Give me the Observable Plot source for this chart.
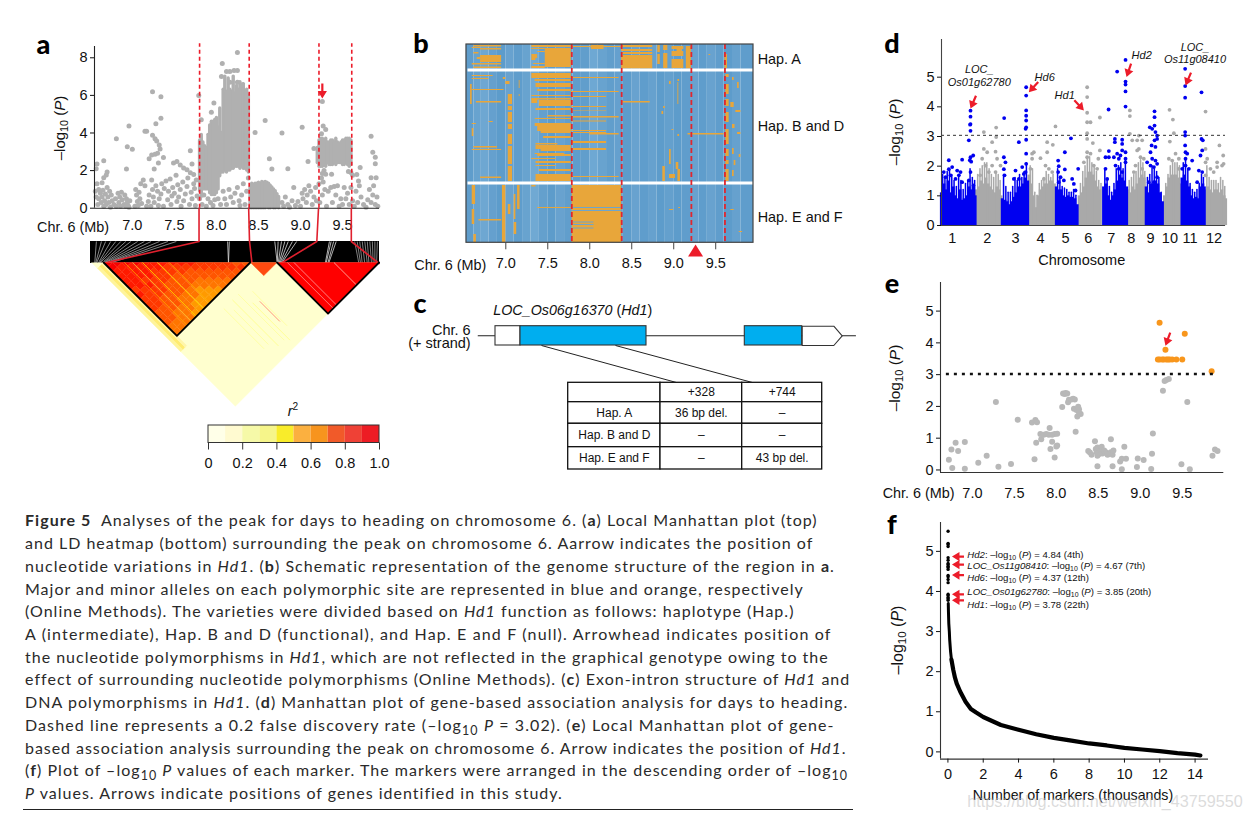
<!DOCTYPE html>
<html><head><meta charset="utf-8">
<script src="https://cdn.jsdelivr.net/npm/d3@7"></script>
<script src="https://cdn.jsdelivr.net/npm/@observablehq/plot@0.6"></script>
<style>
html,body{margin:0;padding:0;background:#fff}
#root{position:relative;width:1250px;height:819px;overflow:hidden;font-family:"Liberation Sans",Arial,sans-serif;color:#111}
.lb{position:absolute;white-space:nowrap;line-height:1}
.lb sub{font-size:.72em;vertical-align:baseline;position:relative;top:.28em;line-height:0}
.cap{position:absolute;left:25px;white-space:nowrap;font-family:Lato,"Open Sans",sans-serif;font-size:16px;color:#2a2a2a;line-height:1}
.cap sub{font-size:.78em;vertical-align:baseline;position:relative;top:.3em;line-height:0}
</style></head><body><div id="root"></div>
<script>
// ---------- Panel a: local Manhattan ----------
const aBoundaries=[7.8,8.39,9.22,9.61];
const aTicks=[7,7.5,8,8.5,9,9.5];
const aPeakCols=[[7.8,.9,3.6],[7.82,.6,3.9],[7.84,1,3.5],[7.86,1,3.3],[7.88,1,3.2],[7.9,1,3.9],[7.92,.8,4.4],[7.94,.7,4.6],[7.96,.7,4.6],[7.98,.7,4.7],[8,.8,4.8],[8.02,1,4.3],[8.04,1.7,5.3],[8.06,1.9,4],[8.08,1.9,6.3],[8.1,2,7],[8.12,1.9,6.2],[8.14,2,6.9],[8.16,2,6.3],[8.18,2.1,6.2],[8.2,2.1,7],[8.22,2.2,6.1],[8.24,2.2,6.5],[8.26,2.2,6.3],[8.28,2.1,6.7],[8.3,2.2,6.4],[8.32,2.1,6.6],[8.34,2.1,6.2],[8.36,2,6.3],[8.38,1.9,6]];
const aHumpCols=[[8.4,0,1.1],[8.42,0,1.3],[8.44,0,1.25],[8.46,0,1.3],[8.48,0,1.3],[8.5,0,1.35],[8.52,0,1.3],[8.54,0,1.4],[8.56,0,1.35],[8.58,0,1.4],[8.6,.1,1.35],[8.62,0,1.3],[8.64,0,1.2],[8.66,.1,1.1],[8.68,0,1],[8.7,0,.9],[8.72,.1,.75],[8.74,0,.6]];
const aBandCols=[[9.2,2.4,3.2],[9.22,2.2,3.6],[9.24,2.2,3.7],[9.26,2.2,3.7],[9.28,2.3,3.6],[9.3,2.2,3.7],[9.32,2.4,3.5],[9.34,2.3,3.5],[9.36,2.3,3.6],[9.38,2.3,3.6],[9.4,2.4,3.5],[9.42,2.3,3.7],[9.44,2.4,3.5],[9.46,2.4,3.4],[9.48,2.4,3.5],[9.5,2.3,3.6],[9.52,2.3,3.6],[9.54,2.4,3.7],[9.56,2.3,3.7],[9.58,2.2,3.7],[9.6,2.3,3.6]];
const aHighPoints=[[6.58,2.35],[6.57,2.1],[6.66,2.52],[6.7,1.93],[6.69,1.76],[6.66,1.62],[6.64,1.36],[6.81,3.7],[6.94,3.27],[7,3.13],[6.96,4.37],[6.93,2.09],[7.15,4.09],[7.17,4.09],[7.24,6.19],[7.34,5.93],[7.28,4.49],[7.34,4.78],[7.24,3.88],[7.27,3.7],[7.29,3.57],[7.32,3.36],[7.33,3.15],[7.2,2.63],[7.23,2.83],[7.27,2.87],[7.3,2.92],[7.37,2.7],[7.31,2.4],[7.26,2.09],[7.69,3.06],[7.79,6],[7.82,4.71],[8.07,7.7],[8.25,8.28],[8.12,7.27],[8.16,7.27],[8.21,7.32],[8.25,7.33],[8.31,6.57],[8.25,6.7],[8.16,6.7],[8.06,7],[7.97,5.6],[7.94,5.1],[8.46,4.02],[8.58,4.66],[8.78,4],[9.02,4.31],[8.63,2.63],[8.66,2.09],[8.85,2.1],[9.09,2.49],[9.16,3.18],[9.26,5.67],[9.27,4.37],[9.3,4.19],[9.25,3.96],[9.84,3.83],[9.86,2.97],[9.89,2.71],[9.89,2.37],[9.71,2.17],[9.67,1.79],[9.84,1.62],[9.9,1.62],[9.69,1.44],[7.49,2.4],[7.53,2.49],[7.57,2.3],[7.61,2.14],[7.65,2.05],[7.69,1.88],[7.73,1.79],[7.71,2.35],[9.57,1.95],[9.6,1.9],[9.62,1.75],[9.28,2],[9.26,1.85],[9.3,1.8],[9.37,1.8]];
const aLowPoints=[[6.56,.9],[6.57,.6],[6.58,1.3],[6.59,.2],[6.6,.5],[6.6,1],[6.62,.8],[6.63,.3],[6.64,.6],[6.65,.95],[6.66,.1],[6.67,.4],[6.68,.75],[6.69,.2],[6.7,1.1],[6.71,.6],[6.72,.3],[6.73,.9],[6.74,.05],[6.75,.7],[6.76,.4],[6.78,.2],[6.8,.5],[6.81,.1],[6.83,.8],[6.84,.3],[6.85,.6],[6.86,.1],[6.87,.85],[6.88,.45],[6.9,.2],[6.91,.7],[6.92,.1],[6.93,.5],[6.94,.3],[6.95,.15],[6.96,.05],[6.97,.4],[7.03,.1],[7.04,1],[7.05,.7],[7.06,.35],[7.07,.15],[7.08,.85],[7.09,.5],[7.1,1.3],[7.11,.25],[7.13,1.5],[7.15,1.2],[7.17,.1],[7.19,.35],[7.2,.7],[7.22,.1],[7.23,1.5],[7.24,1],[7.25,.6],[7.26,.3],[7.28,1.2],[7.3,.9],[7.31,.15],[7.32,.5],[7.34,.75],[7.35,1.3],[7.37,.1],[7.38,1.05],[7.4,1.45],[7.42,.45],[7.43,.9],[7.45,1.55],[7.46,.2],[7.47,.65],[7.48,1.1],[7.5,.8],[7.52,1.75],[7.53,.35],[7.54,1.25],[7.55,.6],[7.57,1],[7.58,.1],[7.6,1.4],[7.61,.4],[7.63,.75],[7.65,1.15],[7.66,1.6],[7.68,.2],[7.7,.85],[7.71,.5],[7.73,1.3],[7.74,1.05],[7.75,.15],[7.76,1.5],[7.77,.65],[7.8,.5],[7.83,.2],[7.85,.7],[7.88,.1],[7.9,.5],[7.93,.3],[7.96,.15],[7.98,.45],[8.02,.5],[8.05,.2],[8.08,.9],[8.1,.5],[8.12,.2],[8.15,1],[8.17,.6],[8.2,.3],[8.22,.8],[8.25,1.1],[8.27,.4],[8.28,.15],[8.3,.7],[8.32,1.3],[8.34,.2],[8.36,.9],[8.38,1.6],[8.78,.3],[8.8,.1],[8.82,.6],[8.85,.2],[8.87,.05],[8.9,.4],[8.92,1.1],[8.94,.15],[8.97,.35],[9,.1],[9.02,.8],[9.03,.5],[9.05,1],[9.07,.3],[9.08,.7],[9.1,1.2],[9.12,.9],[9.14,.2],[9.16,.6],[9.18,1.1],[9.19,.4],[9.22,1.3],[9.25,1.6],[9.27,1.4],[9.23,.3],[9.26,.7],[9.29,1],[9.31,.1],[9.33,.9],[9.36,1.1],[9.38,.3],[9.4,1.15],[9.42,.7],[9.44,1.2],[9.46,.1],[9.48,.5],[9.5,.2],[9.52,1.1],[9.54,.5],[9.56,.8],[9.58,.2],[9.6,1.1],[9.62,.4],[9.64,.1],[9.66,.9],[9.68,.3],[9.7,1.2],[9.72,.6],[9.75,.2],[9.78,.05],[9.8,.45],[9.82,1],[9.84,.3],[9.86,.7],[9.87,1.2],[9.89,.2],[9.91,.6],[9.92,.1]];
const aArrow=[{x:9.26,y:5.83,rotate:180}];
// LD connector band: [genome position, SNP-order position]
const bandFansLeft=[[6.58,6.56],[6.64,6.57],[6.69,6.58],[6.75,6.6],[6.81,6.61],[6.87,6.62],[6.93,6.64],[6.99,6.65],[7.07,6.66],[7.15,6.67],[7.23,6.69],[7.33,6.7],[7.43,6.71],[7.53,6.73]];
const bandFansMid=[[8.7,8.73],[8.74,8.73],[8.78,8.74],[8.82,8.75],[8.86,8.76],[8.91,8.77],[8.96,8.78],[8.14,8.15],[8.16,8.15],[9.35,9.3],[9.37,9.31],[9.4,9.33],[9.43,9.34]];
const bandFansRight=[[9.65,9.7],[9.68,9.72],[9.71,9.74],[9.74,9.77],[9.77,9.8],[9.8,9.82],[9.83,9.85],[9.86,9.87],[9.89,9.89],[9.92,9.91]];
const bandConnectors=[[7.8,7.8,6.65],[8.39,8.4,8.43],[9.22,9.2,8.77],[9.61,9.61,9.94]];
// LD heat map, pair-of-sites coordinates (0-1 in SNP order)
const ldBlock1Sites=[.042,.552];
const ldBlock1=["0011112122233344","011111222233344","01112122333444","0111222333444","112223334445","11223334455","1223334455","122334555","12334455","1233445","223344","22334","2233","223","32","3"];
const ldLevels=["#f80000","#ff1a00","#ff3800","#ff5500","#ff7500","#ff9a00"];
const ldStrips=[[0,.015,.042,.62,"#fff49a"],[.015,.03,.042,.62,"#ffec70"],[.03,.042,.042,.62,"#fff6a8"],[.552,.645,.552,.645,"#ff4a10"],[.645,1,.645,1,"#ff0000"]];
const ldStreaks=[[.114,.114,.552,"#ffa000"],[.143,.143,.552,"#ffc030"],[.177,.177,.552,"#ffd000"],[.229,.229,.552,"#ffe000"],[.27,.27,.552,"#ffb000"],[.05,.3,.3,"#ffa000"],[.05,.35,.35,"#ffc000"],[.05,.39,.39,"#ffe000"],[.05,.47,.47,"#ffd040"],[.681,.681,1,"#ff8080"],[.704,.704,1,"#ff9090"],[.843,.843,1,"#ffb0a0"],[.645,.843,.843,"#ffb0a0"],[.645,.913,.913,"#ffa090"],[.3,.62,.9,"#ffffa0"],[.33,.66,.9,"#ffffa0"],[.36,.62,.94,"#ffff90"],[.4,.62,.94,"#ffffa0"],[.42,.7,.96,"#ffff90"],[.46,.66,.9,"#ffffa0"],[.1,.62,.62,"#ffef60"],[.45,.72,.86,"#ff9070"]];
const ldOutlines=[[.042,.552],[.645,1]];
const cbColors=["#ffffe8","#fffad0","#f6f9a8","#f6f58a","#f9ec2a","#fbb040","#f7941e","#f15a29","#ef4136","#ed1c24"];
const cbTicks=[0,.2,.4,.6,.8,1];
const cbLabels=["0","0.2","0.4","0.6","0.8","1.0"];
// ---------- Panel b: graphical genotype ----------
const bBoundaries=[7.786,8.38,9.21,9.61];
const bTicks=[7,7.5,8,8.5,9,9.5];
const bStripes=[[6.53,6.62,"#5f9dcc"],[6.62,6.7,"#68a3cf"],[6.7,6.8,"#6ea7d2"],[6.8,6.9,"#65a0ce"],[6.9,7,"#5d9ccb"],[7,7.1,"#68a2cf"],[7.1,7.2,"#5f9dcc"],[7.2,7.3,"#68a3cf"],[7.3,7.4,"#70a9d3"],[7.4,7.5,"#64a0cd"],[7.5,7.6,"#5d9ccb"],[7.6,7.7,"#68a2cf"],[7.7,7.8,"#619ecc"],[7.8,7.9,"#5f9dcc"],[7.9,8,"#619ecc"],[8,8.1,"#6ea8d3"],[8.1,8.2,"#68a3cf"],[8.2,8.3,"#619ecc"],[8.3,8.4,"#65a0ce"],[8.4,8.5,"#5d9ccb"],[8.5,8.6,"#68a2cf"],[8.6,8.7,"#5f9dcc"],[8.7,8.8,"#66a1ce"],[8.8,8.9,"#5d9ccb"],[8.9,9,"#64a0cd"],[9,9.1,"#5d9ccb"],[9.1,9.2,"#609dcc"],[9.2,9.3,"#68a2cf"],[9.3,9.4,"#5f9dcc"],[9.4,9.5,"#68a2cf"],[9.5,9.6,"#609dcc"],[9.6,9.7,"#5d9ccb"],[9.7,9.8,"#66a1ce"],[9.8,9.95,"#5f9dcc"]];
const bOrangeA=[[7.31,7.78,1,3],[7.47,7.78,4,23],[7.31,7.47,4,5],[7.31,7.38,10,14],[7.38,7.47,7,8],[7.31,7.36,14,16],[7.33,7.47,19,20],[7.31,7.47,22,24],[6.62,6.95,1,2.5],[6.6,6.7,3,4],[6.7,6.95,4,5.5],[6.62,6.68,8,9.5],[6.7,6.95,11,18],[6.66,6.7,13,15],[6.6,6.95,19,20.5],[6.62,6.95,22.5,24],[7.78,8.38,2,3],[8.02,8.17,1,5],[8.38,8.75,1,3],[8.38,8.75,5,7],[8.38,8.75,8,10],[8.38,8.75,11,24.5],[8.81,8.84,1,8],[8.81,8.84,10,20],[8.88,8.93,1,6],[8.88,8.93,9,24],[8.98,9.12,2,5],[8.98,9.12,7,12],[8.98,9.12,15,24],[9.04,9.1,5,7],[9.15,9.21,2,24.5],[9.61,9.64,10,24],[9.42,9.44,10,11]];
const bOrangeB=[[7.31,7.78,29,34],[7.35,7.78,35,37],[7.36,7.78,39,43],[7.38,7.78,45,47],[7.31,7.78,51,52],[7.31,7.78,54,55.5],[7.31,7.38,55,59],[7.4,7.78,56,62],[7.36,7.78,64,66],[7.5,7.78,71,72.5],[7.35,7.78,74,75],[7.35,7.78,79,82],[7.38,7.78,82,87],[7.42,7.78,87,89],[7.45,7.78,92,94],[7.36,7.62,99,100.5],[7.36,7.78,101,105],[7.42,7.78,105,107],[7.35,7.7,109,110],[7.38,7.78,110,112],[7.31,7.6,114,115],[7.36,7.78,117,119],[7.36,7.6,121,122],[7.4,7.78,125,127],[7.36,7.78,130,133],[7.36,7.78,133,137],[7.78,8.35,33,34],[7.78,8.35,47,48],[7.78,8.2,52,53],[7.78,8.2,62,63],[7.78,8.2,66,66.5],[7.78,8.35,72,73.5],[7.78,8.2,76.5,77.5],[7.78,8.2,86,87],[7.78,8.2,88,89],[8,8.35,89,90.5],[7.78,8.2,97,99],[7.78,8.2,104,106],[7.78,8.35,132,133],[7.03,7.08,50,60],[7.03,7.08,62,66],[7.03,7.08,68,78],[7.03,7.08,80,85],[7.03,7.08,90,100],[7.03,7.08,102,120],[7.03,7.08,122,137],[6.97,7,33,35],[7,7.05,37,40],[7.16,7.17,36,44],[7.16,7.17,50,52],[9.62,9.66,30,33],[9.62,9.66,40,50],[9.62,9.66,55,62],[9.62,9.66,68,78],[9.62,9.66,85,100],[9.62,9.66,105,112],[9.62,9.66,116,120],[9.62,9.66,125,137],[9.7,9.72,33,36],[9.76,9.78,38,44],[9.68,9.72,58,63],[9.74,9.8,66,68],[9.7,9.73,80,84],[9.76,9.8,88,90],[9.7,9.72,104,110],[9.78,9.8,110,113],[9.72,9.74,116,121],[9.7,9.72,126,132],[6.6,6.85,31,32],[6.6,6.8,34,35],[6.6,6.98,45,46],[6.65,6.95,57,58.5],[6.8,6.85,77,78],[6.6,6.65,79,80],[6.62,6.9,102,103.5],[6.6,6.95,105,106],[6.7,6.95,132.5,134],[6.58,6.6,40,60],[6.6,6.62,84,92],[9.17,9.6,89,90.5],[8.38,8.72,57,58.5],[8.95,8.97,37,40],[9.05,9.07,35,37],[9.05,9.06,38,60],[8.98,9,85,86],[9.05,9.07,90,92],[8.88,8.9,62,64],[8.86,8.88,67,70],[8.95,8.97,105,120],[9.03,9.06,118,125],[8.87,8.9,122,137],[9.05,9.08,125,137],[8.95,9.02,130,134]];
const bOrangeE=[[7.79,8.38,141,198.3],[6.96,7,141,198.3],[6.6,6.64,141,160],[6.6,6.63,165,180],[6.62,6.65,190,198.3],[7.14,7.17,141,165],[7.03,7.06,160,170],[7.1,7.12,150,175],[7.1,7.13,178,190],[6.68,6.95,175,176.5],[7.38,7.78,163,164],[7.31,7.36,141,142.5],[9.68,9.72,165,166],[9.78,9.82,187,188],[8.95,9,165,166],[9.06,9.08,163,164]];
const bBlueOverE=[[7.79,8.38,163,164],[7.79,8.38,166,167],[7.8,8.05,177.5,178.5],[7.8,8.05,180,181],[7.8,8.05,183.5,184.5]];
const bGaps=[[24.5,27.5],[137.5,140.5]];
const bMarker=[{x:9.26,y:200}];
// ---------- Panel c: gene model and table ----------
const cExons=[[20,45,"#fff"],[45,171,"#00aeef"],[269.3,326.7,"#00aeef"]];
const cUtrTail=[[326.7,3.7],[358.3,3.7],[366.7,13.3],[358.3,23],[326.7,23],[326.7,3.7]];
const cIntron=[[2.7,13.3],[380,13.3]];
const cLinks=[[66,23,202,60.3],[140,23,278,60.3]];
const cColEdges=[92.7,185,266.7,346.7];
const cRowEdges=[60.3,79.7,101.3,124.7,147];
const cTable=[["","+328","+744"],["Hap. A","36 bp del.","–"],["Hap. B and D","–","–"],["Hap. E and F","–","43 bp del."]];
// ---------- Panel d: genome-wide Manhattan ----------
const dTickPos=[14,60,97.2,130,163,192.8,223,249.3,274.7,300,326.5,358];
const dTickLabels=["1","2","3","4","5","6","7","8","9","10","11","12"];
const dThreshold=3.04;
const dBlueCols=[[0,1.1],[3,1.4],[6,1.2],[9,1.5],[12,1.1],[15,1.3],[18,1],[21,.9],[24,1.2],[27,.85],[30,.9],[33,1],[36,1.3],[39,1.2],[42,1.3],[44,1],[80,.9],[83,.85],[86,.8],[89,.7],[92,.8],[95,.95],[98,1.1],[101,1.3],[104,1.3],[107,1.4],[110,1.6],[113,1.5],[151,1.3],[154,1.2],[157,1.2],[160,1],[163,.95],[166,1],[169,.95],[172,.95],[175,.9],[178,.7],[213,1.3],[216,1.4],[219,1],[222,.85],[225,1],[228,1.2],[231,1.5],[234,1.7],[237,1.6],[240,1.5],[243,1.3],[269,1.3],[272,1.1],[275,1.4],[278,1.4],[281,1.5],[284,1.4],[287,1.1],[290,.8],[316,1.6],[319,1.7],[322,1.5],[325,1.3],[328,1],[331,.9],[334,.95],[337,.9],[340,1.3],[343,1.4],[345,1.3]];
const dGrayCols=[[46,1.2],[49,1.3],[52,1.5],[55,1.4],[58,1.6],[61,1.4],[64,1.3],[67,1.2],[70,1.1],[73,1.3],[76,1.2],[78,1],[115,1.7],[118,1.4],[121,1],[124,.6],[127,1],[130,1.2],[133,1.3],[136,1.4],[139,1.4],[142,1.5],[145,1.5],[148,1.4],[181,1],[184,1.1],[187,1.3],[190,1.6],[193,1.8],[196,1.8],[199,1.7],[202,1.5],[205,1.3],[208,1.2],[245,1.2],[248,1.1],[251,1.3],[254,1.2],[257,1.4],[260,1.6],[263,1.7],[266,1.6],[293,1],[296,1.3],[299,1.6],[302,1.7],[305,1.7],[308,1.7],[311,1.6],[314,1.4],[347,1.2],[350,1.3],[353,1.2],[356,1.1],[359,1.2],[362,1.2],[365,1.1],[368,1.2],[371,1],[373,.9]];
const dBlueBristles=[[1.5,1.7],[4.5,1.6],[7.5,1.8],[10.5,1.9],[13.5,1.7],[16.5,1.5],[19.5,1.3],[22.5,1.6],[25.5,1.5],[28.5,1.2],[31.5,1.4],[34.5,1.5],[37.5,1.9],[40.5,1.6],[43.5,1.5],[81.5,1.7],[84.5,1.3],[87.5,1.1],[90.5,1.1],[93.5,1.3],[96.5,1.6],[99.5,1.5],[102.5,1.7],[105.5,1.6],[108.5,1.8],[111.5,2.1],[152.5,1.9],[155.5,1.6],[158.5,1.3],[161.5,1.25],[164.5,1.2],[167.5,1.1],[170.5,1.1],[173.5,1.2],[176.5,1],[214.5,1.9],[217.5,1.5],[220.5,1.3],[223.5,1.1],[226.5,1.4],[229.5,1.9],[232.5,2],[235.5,2.1],[238.5,1.9],[241.5,2.2],[270.5,1.6],[273.5,1.7],[276.5,2],[279.5,1.9],[282.5,1.8],[285.5,1.6],[288.5,1.1],[317.5,2.1],[320.5,2.2],[323.5,1.9],[326.5,1.4],[329.5,1.2],[332.5,1.1],[335.5,1.2],[338.5,1.4],[341.5,1.7],[344,1.6]];
const dGrayBristles=[[47.5,1.7],[50.5,1.9],[53.5,2],[56.5,2.1],[59.5,2.1],[62.5,1.9],[65.5,1.7],[68.5,1.6],[71.5,1.8],[74.5,1.7],[77,1.5],[116.5,2],[119.5,1.9],[122.5,1.1],[125.5,1],[128.5,1.4],[131.5,1.5],[134.5,1.6],[137.5,1.8],[140.5,1.7],[143.5,1.6],[146.5,1.7],[182.5,1.4],[185.5,1.8],[188.5,2],[191.5,2.3],[194.5,2.3],[197.5,2.1],[200.5,2],[203.5,1.8],[206.5,1.5],[209.5,1.4],[246.5,1.5],[249.5,1.6],[252.5,1.7],[255.5,1.8],[258.5,2.1],[261.5,2.2],[264.5,2.1],[267,1.8],[294.5,1.4],[297.5,1.7],[300.5,2],[303.5,2.1],[306.5,2.1],[309.5,2.1],[312.5,2],[348.5,2],[351.5,1.6],[354.5,1.5],[357.5,1.5],[360.5,1.5],[363.5,1.4],[366.5,1.6],[369.5,1.5],[372,1.3]];
const dBluePoints=[[38.1,3.87],[38.1,3.67],[38.1,3.42],[37.5,3.4],[38.1,3.19],[35.9,2.87],[41.6,2.36],[38.1,2.3],[37.2,2.2],[39,2.15],[9.6,2.2],[27.1,2.22],[14,1.97],[3,1.8],[9.6,1.9],[20.6,1.85],[25,1.8],[5.3,1.63],[11.8,1.69],[18.4,1.57],[22.8,1.69],[27.1,1.46],[38.1,1.8],[35.9,1.52],[42,1.35],[82.3,3.62],[101.6,2.81],[111.2,4.66],[111.2,4.38],[111.2,3.88],[111.2,3.7],[111.2,3.54],[111.2,3.31],[110.5,3.26],[111.2,2.89],[111.2,2.42],[81.9,2.3],[84,2.13],[81.9,1.9],[82.8,1.69],[97.2,1.85],[106,1.97],[111.2,2.08],[95,1.57],[101.6,1.57],[108.1,1.74],[110.5,1.8],[170,2.94],[162,2.47],[153.2,2.19],[154,2],[162,1.89],[179.5,1.91],[153.2,1.8],[156.4,1.63],[160.7,1.52],[171.6,1.57],[173.8,1.4],[176,1.18],[154,1.46],[219.4,3.91],[227.7,2.81],[227.7,2.92],[237.3,2.89],[237.3,2.75],[230.7,5.19],[219.8,2.51],[215.4,2.3],[219.8,2.3],[226.4,2.3],[230.7,2.42],[235,2.36],[237.3,2.53],[232.9,2.25],[241.7,2.47],[241.7,2.25],[241.7,2.13],[232.9,1.91],[215.4,1.91],[217.6,1.57],[228.6,2.02],[237.3,1.8],[241.7,5.58],[241.7,4.85],[241.7,4.75],[241.7,4.52],[241.7,4.01],[279.8,3.85],[279.8,3.65],[279.8,3.37],[273.6,3.31],[276.7,3.26],[281,3.15],[283.2,3.03],[279.8,2.87],[283.2,2.92],[276,2.7],[281,2.65],[274.5,2.47],[270.1,2.13],[276.7,2.25],[281,2.19],[274.5,2.02],[279,1.97],[283.2,2.08],[272.3,1.46],[283.2,1.63],[279,1.46],[320,5.28],[320,4.7],[320,4.31],[320,3.15],[320,3.03],[320,2.7],[341.5,4.49],[341.5,2.92],[343.2,2.87],[320.5,2.47],[322.7,2.42],[320.5,2.25],[329.2,2.19],[320.5,2.02],[316.2,1.91],[324.9,1.91],[342.4,2.53],[340.2,2.36],[338,1.85],[335.8,1.46],[342.4,1.8]];
const dGrayPoints=[[55.6,3.15],[71.8,3.3],[71.8,2.98],[66.5,2.81],[55.6,2.58],[60,2.47],[71,2.49],[53.4,2.25],[57.8,2.02],[66.5,2.02],[73,2.25],[62.2,1.8],[71,1.8],[50.8,1.69],[77.5,2.02],[119,2.42],[121.3,2.47],[130,2.27],[138.8,2.81],[138.8,2.47],[146.2,2.72],[149.7,3.34],[136.6,2.02],[141,1.91],[145.4,1.8],[119,2.25],[116.8,1.91],[134.4,1.57],[191.3,4.66],[191.3,4.33],[191.3,3.8],[191.3,3.48],[195.7,3.48],[191.3,3.11],[191.3,2.92],[198.8,2.78],[208,3.64],[208,2.53],[191.3,2.47],[191.3,2.3],[195.7,2.42],[206,2.25],[187,2.13],[200,2.02],[204.4,1.91],[247.4,3.88],[247.4,3.69],[247.4,3.09],[259.2,3.03],[250.5,2.87],[257,2.87],[263.5,2.87],[259.2,2.58],[257,2.53],[261.4,2.3],[254.8,2.02],[265.7,2.25],[252.6,1.8],[263.5,1.91],[299.5,3.9],[303.9,3.57],[299.9,2.83],[305.2,3.11],[307.4,2.42],[298.6,2.25],[303,2.19],[311.7,2.25],[311.7,1.91],[346.8,3.84],[365,2.7],[370,2.36],[346.8,2.58],[349,2.25],[346.8,2.13],[362,2.13],[368.5,2.02],[357.5,1.8],[353.2,1.91],[362,1.97],[346.8,1.69],[370.5,2.08]];
const dArrows=[{x:38.1,y:3.94,rotate:203},{x:114.7,y:4.49,rotate:222},{x:187,y:3.88,rotate:137},{x:243,y:5.01,rotate:199},{x:320.5,y:4.72,rotate:203}];
// ---------- Panel e: local gene-based Manhattan ----------
const eThreshold=3.02;
const eGray=[[6.72,.32],[6.75,.64],[6.76,.06],[6.8,.86],[6.83,.6],[6.91,.88],[6.91,.04],[7.07,.23],[7.17,.45],[7.31,.1],[7.28,2.14],[7.46,.19],[7.54,1.58],[7.74,.34],[7.71,1.49],[7.75,1.57],[7.77,1.5],[7.76,.86],[7.81,1.13],[7.82,.97],[7.85,1.11],[7.88,1.13],[7.91,1.11],[7.92,1.32],[7.95,1.11],[7.98,1.13],[8.01,1.14],[7.95,.89],[7.93,.66],[8.01,.77],[8,.74],[7.98,.39],[8.07,1.98],[8.08,2.41],[8.1,2.39],[8.11,2.42],[8.13,2.41],[8.14,2.13],[8.15,2.21],[8.18,2.22],[8.2,2.24],[8.22,2.22],[8.23,1.2],[8.21,1.93],[8.24,1.89],[8.26,1.99],[8.27,1.91],[8.29,1.76],[8.25,1.68],[8.27,1.81],[8.38,.6],[8.4,.55],[8.42,.48],[8.46,.9],[8.47,.66],[8.48,.56],[8.49,.45],[8.49,.71],[8.51,.5],[8.53,.61],[8.54,.73],[8.55,.52],[8.57,.61],[8.59,.56],[8.61,.48],[8.63,.52],[8.65,.97],[8.65,.56],[8.67,.48],[8.68,.61],[8.49,.12],[8.67,.12],[8.76,.27],[8.78,.02],[8.78,.35],[8.83,.35],[8.81,.73],[8.97,.36],[8.96,.09],[9.04,.31],[9.13,.03],[9.14,.51],[9.15,1.15],[9.27,2.49],[9.29,2.8],[9.31,2.83],[9.34,2.86],[9.49,.18],[9.56,2.14],[9.59,.02],[9.86,.45],[9.89,.64],[9.92,.6]];
const eOrange=[[9.23,4.63],[9.53,4.29],[9.3,3.78],[9.85,3.11],[9.21,3.48],[9.23,3.48],[9.26,3.48],[9.28,3.48],[9.31,3.48],[9.33,3.48],[9.35,3.48],[9.38,3.48],[9.43,3.48],[9.5,3.48]];
const eTicks=[7,7.5,8,8.5,9,9.5];
const eArrow=[{x:9.3,y:3.91,rotate:200}];
// ---------- Panel f: ranked markers ----------
const fTop=[[.01,5.5],[.01,5.2],[.01,5.17],[.01,5.12],[.01,4.84],[.01,4.78],[.01,4.7],[.01,4.67],[.01,4.63],[.01,4.6],[.01,4.55],[.01,4.4],[.01,4.37],[.01,4.3],[.01,4.22],[.01,3.93],[.01,3.9],[.01,3.85],[.01,3.82],[.01,3.78]];
const fSteep=[[.02,3.7],[.03,3.5],[.05,3.2],[.08,3],[.1,2.8],[.15,2.5],[.2,2.3]];
const fCurve=[[.2,2.3],[.3,2.05],[.4,1.85],[.5,1.7],[.7,1.5],[1,1.25],[1.3,1.07],[1.6,.98],[2,.87],[2.5,.77],[3,.67],[4,.55],[5,.44],[6,.35],[7,.28],[8,.21],[9,.16],[10,.1],[11,.06],[12,.02],[13,-.03],[14,-.07],[14.3,-.09]];
const fArrows=[{x:.23,y:4.87,rotate:270},{x:.23,y:4.67,rotate:270},{x:.23,y:4.41,rotate:270},{x:.23,y:3.93,rotate:270},{x:.23,y:3.78,rotate:270}];
const fTicksX=[0,2,4,6,8,10,12,14];
// ---------- Caption ----------
const captionLines=[
'<b>Figure 5</b>&nbsp; Analyses of the peak for days to heading on chromosome 6. (<b>a</b>) Local Manhattan plot (top)',
'and LD heatmap (bottom) surrounding the peak on chromosome 6. Aarrow indicates the position of',
'nucleotide variations in <i>Hd1</i>. (<b>b</b>) Schematic representation of the genome structure of the region in <b>a</b>.',
'Major and minor alleles on each polymorphic site are represented in blue and orange, respectively',
'(Online Methods). The varieties were divided based on <i>Hd1</i> function as follows: haplotype (Hap.)',
'A (intermediate), Hap. B and D (functional), and Hap. E and F (null). Arrowhead indicates position of',
'the nucleotide polymorphisms in <i>Hd1</i>, which are not reflected in the graphical genotype owing to the',
'effect of surrounding nucleotide polymorphisms (Online Methods). (<b>c</b>) Exon-intron structure of <i>Hd1</i> and',
'DNA polymorphisms in <i>Hd1</i>. (<b>d</b>) Manhattan plot of gene-based association analysis for days to heading.',
'Dashed line represents a 0.2 false discovery rate (–log<sub>10</sub> <i>P</i> = 3.02). (<b>e</b>) Local Manhattan plot of gene-',
'based association analysis surrounding the peak on chromosome 6. Arrow indicates the position of <i>Hd1</i>.',
'(<b>f</b>) Plot of –log<sub>10</sub> <i>P</i> values of each marker. The markers were arranged in the descending order of –log<sub>10</sub>',
'<i>P</i> values. Arrows indicate positions of genes identified in this study.'];
const captionRight=[816,812,835,803,794,831,828,849,847,833,846,847,562];
const captionY=[520,543,566,589,611,634,657,679,702,725,748,770,793];

// ---------- helpers ----------
const root=document.getElementById("root");
const RED="#ec1c2a",GRAY="#b0b0b0";
const style={background:"transparent",overflow:"visible",maxWidth:"none",fontFamily:'"Liberation Sans",Arial,sans-serif',fontSize:"14.5px",color:"#111"};
function place(svg,left,top){svg.style.position="absolute";svg.style.left=left+"px";svg.style.top=top+"px";svg.style.height=svg.getAttribute("height")+"px";root.append(svg);}
function lbl(html,x,y,o={}){const d=document.createElement("div");d.className="lb";d.innerHTML=html;d.style.left=x+"px";d.style.top=y+"px";d.style.fontSize=(o.size||14.4)+"px";
 const a=o.anchor==="start"?"0":o.anchor==="end"?"-100%":"-50%";d.style.transform=`translate(${a},-50%)`+(o.rotate?` rotate(${o.rotate}deg)`:"");
 if(o.style)Object.assign(d.style,o.style);root.append(d);return d;}
const pairs=a=>a.map(([x,y])=>({x,y}));
const blockArrow={draw(c,l){const hw=4.6,h=7.5,s=1.1;c.moveTo(0,-0);c.lineTo(hw,-h);c.lineTo(s,-h);c.lineTo(s,-l);c.lineTo(-s,-l);c.lineTo(-s,-h);c.lineTo(-hw,-h);c.closePath();}};
// blockArrow has its point at the origin: the vector is anchored at its start and turned to point at the value.
const arrows=(data,len=14)=>Plot.vector(data,{x:"x",y:"y",rotate:d=>d.rotate+180,length:len,anchor:"start",shape:blockArrow,fill:RED,stroke:"none"});
const LOG='–log<sub>10</sub> (<i>P</i>)';
const yAxis=t=>Plot.axisY({ticks:t,tickFormat:"d",tickSize:4,tickPadding:3,label:null,anchor:"left",marginLeft:0});

// ---------- Panel a ----------
place(Plot.plot({style,width:335,height:198,marginLeft:40,marginRight:10,marginTop:6,marginBottom:30.3,
 x:{domain:[6.55,9.94]},y:{domain:[0,8.6]},
 marks:[
  Plot.dot(pairs(aLowPoints),{x:"x",y:"y",r:2.5,fill:GRAY}),
  ...[aPeakCols,aHumpCols,aBandCols].map(c=>Plot.ruleX(c,{x:d=>d[0],y1:d=>d[1],y2:d=>d[2],stroke:GRAY,strokeWidth:3.4,strokeLinecap:"round"})),
  Plot.dot(pairs(aHighPoints),{x:"x",y:"y",r:2.5,fill:GRAY}),
  Plot.ruleX(aBoundaries,{y1:0,y2:8.75,stroke:RED,strokeWidth:1.6,strokeDasharray:"4,3"}),
  arrows(aArrow,15),
  Plot.ruleX([6.55],{stroke:"#222",strokeWidth:1.1}),Plot.ruleY([0],{stroke:"#222",strokeWidth:1.1}),
  Plot.axisY({ticks:[0,2,4,6,8],tickFormat:"d",tickSize:4,tickPadding:3,label:null}),
  Plot.axisX({ticks:aTicks,tickFormat:".1f",tickSize:0,tickPadding:12,label:null})
 ]}),54.3,40.4);
lbl("Chr. 6 (Mb)",37,227,{anchor:"start"});
lbl(LOG,59.3,128,{size:15,rotate:-90});

// connector band
const bandLink=(a,c,w)=>Plot.link(a,{x1:d=>d[0],x2:d=>d[1],y1:.6,y2:1,stroke:c,strokeWidth:w});
place(Plot.plot({style,width:289,height:57,margin:0,x:{domain:[6.51,9.945]},y:{domain:[0,1],range:[0,55]},axis:null,
 marks:[
  Plot.rect([0],{x1:6.51,x2:9.945,y1:.6,y2:1,fill:"#000"}),
  bandLink(bandFansLeft,"#bdbdbd",.7),bandLink(bandFansMid,"#dddddd",.8),bandLink(bandFansRight,"#b5b5b5",.7),
  Plot.line(bandConnectors.flatMap((d,i)=>[{x:d[0],y:0,z:i},{x:d[1],y:.6,z:i},{x:d[2],y:1,z:i}]),{x:"x",y:"y",z:"z",stroke:"#e0202e",strokeWidth:1.6})
 ]}),90,207.5);

// LD heat map in (site, site) coordinates, drawn rotated 45°
function rhomb(id,s0,s1,t0,t1,fill){return [[s0,t0],[s1,t0],[s1,t1],[s0,t1]].map(([s,t])=>({id,fill,x:(s+t)/2,y:Math.max(0,(t-s)/2)}));}
const ldPolys=[];
ldPolys.push(...[{id:"all",fill:"#ffffcf",x:0,y:0},{id:"all",fill:"#ffffcf",x:.5,y:.5},{id:"all",fill:"#ffffcf",x:1,y:0}]);
ldStrips.forEach((d,i)=>ldPolys.push(...rhomb("s"+i,d[0],d[1],d[2],d[3],d[4])));
const [b0,b1]=ldBlock1Sites,st=(b1-b0)/16;
ldBlock1.forEach((row,i)=>[...row].forEach((lv,k)=>{const j=i+k;ldPolys.push(...rhomb(`b${i}-${j}`,b0+i*st,b0+(i+1)*st,b0+j*st,b0+(j+1)*st,ldLevels[+lv]));}));
place(Plot.plot({style,width:287.6,height:144.5,margin:0,x:{domain:[0,1]},y:{domain:[0,.5],range:[0,143.8]},color:{type:"identity"},axis:null,
 marks:[
  Plot.line(ldPolys,{x:"x",y:"y",z:"id",fill:"fill",stroke:"fill",strokeWidth:.4}),
  Plot.link(ldStreaks,{x1:d=>(d[0]+d[1])/2,y1:d=>(d[1]-d[0])/2,x2:d=>(d[0]+d[2])/2,y2:d=>(d[2]-d[0])/2,stroke:d=>d[3],strokeWidth:.9}),
  Plot.line(ldOutlines.flatMap((d,i)=>[{x:d[0],y:0,z:i},{x:(d[0]+d[1])/2,y:(d[1]-d[0])/2,z:i},{x:d[1],y:0,z:i}]),{x:"x",y:"y",z:"z",stroke:"#000",strokeWidth:1.8})
 ]}),90.7,262.3);

// colour bar
place(Plot.plot({style,width:171,height:44,marginLeft:0,marginRight:0,marginTop:0,marginBottom:26.5,x:{domain:[0,1]},y:{domain:[0,1]},color:{type:"identity"},
 marks:[
  Plot.rect(cbColors,{x1:(d,i)=>i/10,x2:(d,i)=>(i+1)/10,y1:0,y2:1,fill:d=>d}),
  Plot.rect([0],{x1:0,x2:1,y1:0,y2:1,stroke:"#333",strokeWidth:1}),
  Plot.axisY({ticks:[],label:null,tickSize:0}),
  Plot.axisX({ticks:cbTicks,tickFormat:(d,i)=>cbLabels[i],tickSize:7,tickPadding:8,label:null,stroke:"#333"})
 ]}),207.7,424.7);
lbl('<i>r</i><sup style="font-size:.7em;line-height:0">2</sup>',293,411,{size:14.5});

// ---------- Panel b ----------
const seg=a=>({x1:d=>d[0],x2:d=>d[1],y1:d=>d[2],y2:d=>d[3]});
place(Plot.plot({style,width:287,height:198.3+30,marginLeft:0,marginRight:0,marginTop:0,marginBottom:30,
 x:{domain:[6.532,9.95]},y:{domain:[0,198.3],range:[0,198.3]},color:{type:"identity"},
 marks:[
  Plot.rect(bStripes,{x1:d=>d[0],x2:d=>d[1],y1:0,y2:198.3,fill:d=>d[2]}),
  Plot.rect([...bOrangeA,...bOrangeB,...bOrangeE],{...seg(),fill:"#e8a63a"}),
  Plot.rect(bBlueOverE,{...seg(),fill:"#6ea5cc"}),
  Plot.rect(bGaps,{x1:6.55,x2:9.95,y1:d=>d[0],y2:d=>d[1],fill:"#fff"}),
  Plot.ruleX(bBoundaries,{y1:0,y2:198.3,stroke:"#e0262e",strokeWidth:1.8,strokeDasharray:"5,3"}),
  Plot.rect([0],{x1:6.532,x2:9.95,y1:0,y2:198.3,stroke:"#444",strokeWidth:1.2}),
  Plot.axisY({ticks:[],label:null,tickSize:0}),
  Plot.axisX({ticks:bTicks,tickFormat:".1f",tickSize:7,tickPadding:8,label:null,stroke:"#444"}),
  Plot.vector(bMarker,{x:"x",y:"y",length:12,anchor:"start",rotate:180,shape:{draw(c,l){c.moveTo(0,0);c.lineTo(7.5,-l);c.lineTo(-7.5,-l);c.closePath();}},fill:RED,stroke:"none"})
 ]}),465.7,44);
lbl("Chr. 6 (Mb)",414.3,265,{anchor:"start"});
lbl("Hap. A",757.7,59.3,{anchor:"start"});
lbl("Hap. B and D",757.7,126,{anchor:"start"});
lbl("Hap. E and F",757.7,217,{anchor:"start"});

// ---------- Panel c ----------
const cCells=cTable.flatMap((r,i)=>r.map((t,j)=>({t,x:(cColEdges[j]+cColEdges[j+1])/2,y:(cRowEdges[i]+cRowEdges[i+1])/2})));
const cRects=cTable.flatMap((r,i)=>r.map((t,j)=>({x1:cColEdges[j],x2:cColEdges[j+1],y1:cRowEdges[i],y2:cRowEdges[i+1]})));
place(Plot.plot({style,width:380,height:150,margin:0,x:{domain:[0,380]},y:{domain:[0,150],range:[0,150]},axis:null,color:{type:"identity"},
 marks:[
  Plot.line(cIntron,{x:d=>d[0],y:d=>d[1],stroke:"#222",strokeWidth:1.1}),
  Plot.rect(cExons,{x1:d=>d[0],x2:d=>d[1],y1:3.7,y2:23,fill:d=>d[2],stroke:"#333",strokeWidth:1.1}),
  Plot.line(cUtrTail,{x:d=>d[0],y:d=>d[1],fill:"#fff",stroke:"#333",strokeWidth:1.1}),
  Plot.link(cLinks,{x1:d=>d[0],y1:d=>d[1],x2:d=>d[2],y2:d=>d[3],stroke:"#222",strokeWidth:1}),
  Plot.rect(cRects,{x1:"x1",x2:"x2",y1:"y1",y2:"y2",fill:"#fff",stroke:"#111",strokeWidth:1.3}),
  Plot.text(cCells,{x:"x",y:"y",text:"t",fontSize:12,fill:"#111"})
 ]}),475,322);
lbl("<i>LOC_Os06g16370</i> (<i>Hd1</i>)",493.3,310,{anchor:"start",size:14.3});
lbl("Chr. 6",470.7,329.5,{anchor:"end",size:14.5,style:{lineHeight:"12px"}});
lbl("(+ strand)",470.7,343.3,{anchor:"end",size:14.5,style:{lineHeight:"12px"}});

// ---------- Panel d ----------
place(Plot.plot({style,width:294,height:186+25,marginLeft:0,marginRight:10,marginTop:0,marginBottom:25,
 x:{domain:[0,373]},y:{domain:[0,6.27]},
 marks:[
  Plot.ruleX(dGrayBristles,{x:d=>d[0],y1:0,y2:d=>d[1],stroke:"#a9a9a9",strokeWidth:1.5,strokeLinecap:"round"}),
  Plot.ruleX(dGrayCols,{x:d=>d[0],y1:0,y2:d=>d[1],stroke:"#a9a9a9",strokeWidth:3.2}),
  Plot.ruleX(dBlueBristles,{x:d=>d[0],y1:0,y2:d=>d[1],stroke:"#0000f0",strokeWidth:1.5,strokeLinecap:"round"}),
  Plot.ruleX(dBlueCols,{x:d=>d[0],y1:0,y2:d=>d[1],stroke:"#0000f0",strokeWidth:3.2}),
  Plot.dot(pairs(dGrayPoints),{x:"x",y:"y",r:1.9,fill:"#a9a9a9"}),
  Plot.dot(pairs(dBluePoints),{x:"x",y:"y",r:1.9,fill:"#0000f0"}),
  Plot.ruleY([dThreshold],{stroke:"#333",strokeWidth:1,strokeDasharray:"3,3"}),
  arrows(dArrows,14),
  Plot.ruleX([0],{stroke:"#444",strokeWidth:1.1}),Plot.ruleY([0],{stroke:"#444",strokeWidth:1.1}),
  yAxis([0,1,2,3,4,5]),
  Plot.axisX({ticks:dTickPos,tickFormat:(d,i)=>dTickLabels[i],tickSize:0,tickPadding:7,label:null})
 ]}),941,39);
lbl(LOG,895,131.7,{size:15.5,rotate:-90});
lbl("Chromosome",1081.7,260,{size:14.5});
const ia=(t,x,y)=>lbl(`<i>${t}</i>`,x,y,{size:11});
ia("LOC_",979.3,69);ia("Os01g62780",979.3,81.5);ia("Hd6",1044.7,77);ia("Hd1",1064.7,94.5);ia("Hd2",1141.7,54.5);ia("LOC_",1195,46.5);ia("Os11g08410",1195,58.5);

// ---------- Panel e ----------
place(Plot.plot({style,width:283.3,height:190+25,marginLeft:0,marginRight:0,marginTop:0,marginBottom:25,
 x:{domain:[6.62,9.995]},y:{domain:[-.08,5.9]},
 marks:[
  Plot.dot(pairs(eGray),{x:"x",y:"y",r:3,fill:"#b8b8b8"}),
  Plot.dot(pairs(eOrange),{x:"x",y:"y",r:3,fill:"#f8961c"}),
  Plot.ruleY([eThreshold],{x1:6.69,x2:9.93,stroke:"#111",strokeWidth:2.4,strokeDasharray:"3,5"}),
  arrows(eArrow,14),
  Plot.ruleX([6.62],{stroke:"#333",strokeWidth:1.1}),Plot.ruleY([-.08],{stroke:"#333",strokeWidth:1.1}),
  yAxis([0,1,2,3,4,5]),
  Plot.axisX({ticks:eTicks,tickFormat:".1f",tickSize:0,tickPadding:15,label:null})
 ]}),940,281.7);
lbl("Chr. 6 (Mb)",882.7,493.3,{anchor:"start"});
lbl(LOG,895,378,{size:15.5,rotate:-90});

// ---------- Panel f ----------
place(Plot.plot({style,width:268,height:236.6+25,marginLeft:0,marginRight:0,marginTop:0,marginBottom:25,
 x:{domain:[-.42,14.76]},y:{domain:[-.18,5.72]},
 marks:[
  Plot.line(fSteep,{x:d=>d[0],y:d=>d[1],stroke:"#000",strokeWidth:3,strokeLinecap:"round"}),
  Plot.line(fCurve,{x:d=>d[0],y:d=>d[1],stroke:"#000",strokeWidth:4.2,strokeLinecap:"round"}),
  Plot.dot(pairs(fTop),{x:"x",y:"y",r:1.7,fill:"#000"}),
  arrows(fArrows,12),
  Plot.ruleX([-.42],{stroke:"#333",strokeWidth:1.1}),Plot.ruleY([-.18],{stroke:"#333",strokeWidth:1.1}),
  yAxis([0,1,2,3,4,5]),
  Plot.axisX({ticks:fTicksX,tickFormat:"d",tickSize:4,tickPadding:6,label:null})
 ]}),940.3,521.7);
lbl(LOG,898,640,{size:16,rotate:-90});
lbl("Number of markers (thousands)",1073,795,{size:14.2});
[["<i>Hd2</i>: –log<sub>10</sub> (<i>P</i>) = 4.84 (4th)",555],["<i>LOC_Os11g08410</i>: –log<sub>10</sub> (<i>P</i>) = 4.67 (7th)",565.7],["<i>Hd6</i>: –log<sub>10</sub> (<i>P</i>) = 4.37 (12th)",577.7],["<i>LOC_Os01g62780</i>: –log<sub>10</sub> (<i>P</i>) = 3.85 (20th)",592],["<i>Hd1</i>: –log<sub>10</sub> (<i>P</i>) = 3.78 (22th)",605]]
 .forEach(([t,y])=>lbl(t,967.3,y,{anchor:"start",size:9.6}));
lbl("https://blog.csdn.net/weixin_43759550",1105,801,{size:16.2,style:{color:"rgba(190,190,190,.55)"}});

// ---------- Panel letters ----------
[["a",43.5,43],["b",421,42],["c",420,302],["d",892,42],["e",892,282],["f",892,523]].forEach(([t,x,y])=>lbl(t,x,y,{size:27,style:{fontFamily:'Lato,"Open Sans",sans-serif',fontWeight:"900",color:"#000"}}));

// ---------- Caption ----------
captionLines.forEach((h,i)=>{const d=document.createElement("div");d.className="cap";d.innerHTML=h;d.style.top=(captionY[i]-8)+"px";root.append(d);
 const w=d.getBoundingClientRect().width,n=d.textContent.length-1;d.style.letterSpacing=((captionRight[i]-25-w)/n)+"px";});
const rule=document.createElement("div");Object.assign(rule.style,{position:"absolute",left:"23px",top:"809px",width:"830px",height:"1px",background:"#222"});root.append(rule);
</script></body></html>
